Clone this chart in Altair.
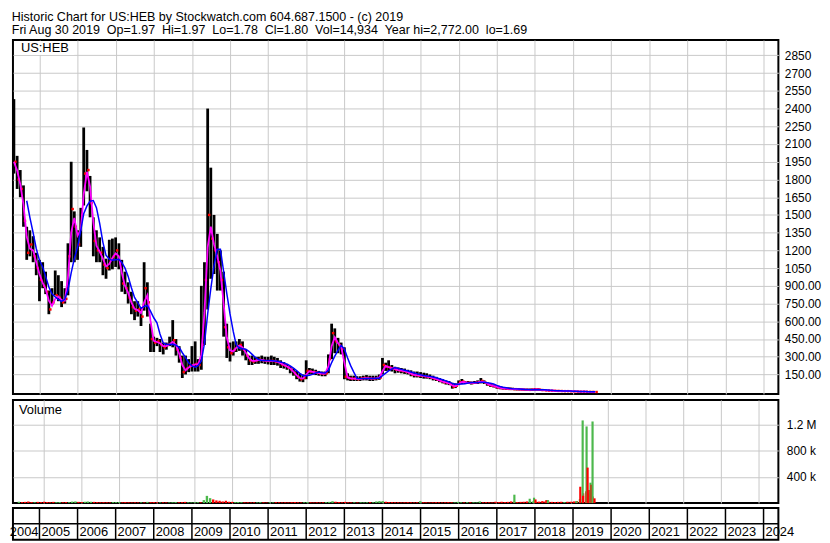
import altair as alt
import pandas as pd

FONT = "Liberation Sans"
GRID = "#c8c8c8"
GREEN = "#4cb84c"
RED = "#ff0000"

TITLE_1 = "Historic Chart for US:HEB by Stockwatch.com 604.687.1500 - (c) 2019"
TITLE_2 = "Fri Aug 30 2019\u00a0 Op=1.97\u00a0 Hi=1.97\u00a0 Lo=1.78\u00a0 Cl=1.80\u00a0 Vol=14,934\u00a0 Year hi=2,772.00\u00a0 lo=1.69"
SYMBOL = "US:HEB"
VOL_LABEL = "Volume"

# monthly bars, May 2004 .. Aug 2019
months = pd.date_range("2004-05-01", "2019-08-01", freq="MS").strftime("%Y-%m-%d").tolist()

high = [
    2480, 2000, 1880, 1750, 1400, 1370, 1320, 1180,                      # 2004
    1120, 1100, 1020, 860, 880, 1030, 990, 940, 880, 1260, 1950, 1530,    # 2005
    1370, 1560, 2240, 2050, 1830, 1480, 1370, 1310, 1230, 1130, 1290, 1300,  # 2006
    1310, 1260, 1120, 1020, 930, 850, 770, 770, 720, 1100, 930, 580,      # 2007
    470, 460, 450, 420, 420, 470, 610, 450, 390, 310, 310, 280,           # 2008
    390, 430, 280, 900, 1100, 2400, 1900, 1500, 1340, 1200, 1020, 580,    # 2009
    420, 430, 430, 450, 430, 360, 310, 310, 300, 300, 310, 300,           # 2010
    300, 310, 300, 290, 270, 255, 240, 220, 200, 180, 160, 150,           # 2011
    270, 205, 200, 190, 180, 175, 175, 320, 580, 540, 460, 420,           # 2012
    380, 160, 140, 140, 135, 135, 140, 145, 140, 140, 140, 150,           # 2013
    290, 250, 270, 230, 215, 210, 205, 200, 190, 185, 175, 175,           # 2014
    170, 165, 160, 150, 140, 130, 120, 110, 100, 95, 80, 75,              # 2015
    100, 112, 95, 95, 90, 95, 100, 120, 100, 85, 75, 65,                  # 2016
    55, 50, 45, 42, 40, 38, 36, 34, 32, 30, 30, 32,                       # 2017
    35, 34, 28, 24, 20, 18, 17, 16, 15, 14, 13, 12,                       # 2018
    11, 10, 9, 8, 7, 6, 5, 4,                                             # 2019
]
low = [
    1850, 1720, 1650, 1400, 1120, 1150, 1100, 990,
    770, 880, 830, 660, 740, 820, 770, 720, 750, 820, 1100, 1100,
    1120, 1230, 1580, 1700, 1480, 1150, 1100, 1100, 990, 960, 1030, 1040,
    1060, 1040, 850, 830, 750, 660, 610, 640, 560, 690, 640, 340,
    340, 390, 340, 320, 360, 390, 380, 310, 250, 120, 150, 170,
    175, 175, 175, 190, 400, 700, 960, 1000, 860, 860, 470, 290,
    260, 310, 340, 350, 310, 270, 230, 230, 240, 240, 245, 240,
    235, 230, 230, 225, 205, 200, 190, 160, 140, 110, 90, 85,
    110, 150, 148, 145, 140, 135, 135, 160, 280, 330, 330, 320,
    110, 100, 95, 95, 95, 95, 100, 100, 95, 95, 100, 105,
    150, 180, 180, 175, 160, 165, 160, 155, 150, 135, 125, 125,
    120, 115, 115, 110, 100, 95, 85, 75, 65, 60, 30, 35,
    60, 70, 70, 70, 65, 70, 70, 75, 70, 55, 45, 40,
    30, 25, 22, 20, 18, 18, 16, 15, 14, 14, 13, 14,
    15, 15, 12, 10, 9, 8, 8, 7, 7, 6, 6, 5,
    5, 4, 4, 3, 3, 2, 2, 1.7,
]
close = [
    1950, 1800, 1720, 1450, 1180, 1250, 1150, 1050,
    950, 900, 850, 700, 760, 820, 800, 760, 790, 1150, 1550, 1400,
    1250, 1500, 1850, 1880, 1600, 1280, 1200, 1180, 1080, 1050, 1120, 1150,
    1200, 1100, 920, 880, 800, 720, 690, 700, 640, 880, 760, 450,
    420, 430, 400, 380, 400, 410, 440, 360, 290, 170, 200, 220,
    230, 240, 230, 400, 950, 1500, 1300, 1200, 1100, 950, 550, 380,
    330, 360, 390, 400, 360, 310, 270, 260, 270, 275, 270, 265,
    265, 265, 260, 255, 235, 225, 210, 190, 160, 130, 110, 120,
    180, 175, 170, 165, 160, 155, 160, 280, 500, 430, 400, 370,
    130, 120, 115, 115, 110, 115, 120, 120, 115, 115, 120, 125,
    230, 215, 210, 200, 190, 185, 180, 175, 165, 150, 145, 140,
    140, 135, 130, 125, 115, 105, 95, 85, 80, 70, 45, 55,
    85, 90, 80, 80, 78, 80, 85, 95, 80, 65, 55, 50,
    40, 35, 32, 30, 28, 26, 25, 24, 22, 21, 20, 22,
    24, 22, 18, 16, 14, 13, 12, 11, 10, 9, 9, 8,
    7, 6, 5, 5, 4, 3, 2.5, 1.8,
]
volume_k = [
    20, 15, 18, 22, 15, 12, 18, 14,
    20, 16, 12, 18, 14, 16, 12, 15, 13, 22, 25, 18,
    15, 20, 24, 20, 18, 15, 12, 14, 12, 10, 15, 14,
    16, 12, 15, 12, 10, 12, 10, 12, 10, 18, 14, 16,
    12, 10, 12, 10, 10, 12, 15, 12, 14, 18, 12, 10,
    12, 14, 12, 45, 110, 75, 55, 40, 35, 25, 35, 20,
    18, 15, 16, 14, 12, 12, 10, 12, 10, 14, 12, 10,
    12, 10, 14, 12, 10, 12, 10, 14, 16, 12, 10, 12,
    15, 12, 10, 12, 10, 12, 14, 18, 28, 20, 15, 12,
    18, 12, 10, 12, 10, 12, 10, 12, 14, 12, 25, 30,
    30, 20, 15, 14, 12, 12, 10, 12, 14, 12, 10, 12,
    28, 14, 12, 10, 12, 14, 12, 10, 12, 14, 12, 10,
    18, 12, 10, 14, 12, 12, 10, 25, 12, 14, 12, 10,
    20, 15, 20, 15, 18, 25, 20, 15, 18, 20, 25, 30,
    25, 20, 22, 30, 25, 20, 18, 15, 18, 20, 15, 20,
    20, 25, 30, 60, 150, 180, 200, 100,
]

# individual heavy-volume sessions
spike_dates = ["2017-07-03", "2017-11-29", "2018-01-10", "2018-01-24", "2018-05-10",
               "2018-05-24", "2019-02-25", "2019-04-04", "2019-04-27", "2019-05-01",
               "2019-06-04", "2019-06-14", "2019-07-02", "2019-07-12", "2019-07-22",
               "2019-08-01", "2019-08-20"]
spike_vol_k = [128, 66, 82, 55, 46, 46, 30, 250, 1266, 112, 1174, 543, 148, 312, 281, 1250, 72]
spike_dir = ["up", "up", "up", "down", "down", "up", "up", "down", "up", "down",
             "up", "down", "down", "up", "down", "up", "down"]

year_labels = [str(y) for y in range(2004, 2025)]
price_ticks = list(range(150, 2851, 150))
vol_ticks = [400000, 800000, 1200000]

price_df = pd.DataFrame({"date": months, "high": high, "low": low, "close": close,
                         "vol": [v * 1000 for v in volume_k]})
spike_df = pd.DataFrame({"date": spike_dates, "vol": [v * 1000 for v in spike_vol_k],
                         "dir": spike_dir})
year_df = pd.DataFrame({"label": year_labels})

W = 772
PH = 357
VH = 104
BH = 32

xscale = alt.Scale(domain=[alt.DateTime(year=2004, month=4, date=22),
                           alt.DateTime(year=2024, month=5, date=22)])
year_vals = [alt.DateTime(year=y) for y in range(2005, 2025)]
x_axis = alt.Axis(values=year_vals, grid=True, labels=False, ticks=False, domain=False,
                  title=None, gridColor=GRID, gridWidth=1)
x_enc = alt.X("date:T", scale=xscale, axis=x_axis)

yscale = alt.Scale(domain=[-15, 2980], nice=False, zero=False)
y_axis = alt.Axis(orient="right", values=price_ticks,
                  labelExpr="datum.value >= 1000 ? format(datum.value, 'd') : format(datum.value, '.2f')",
                  ticks=False, domain=False, grid=True, gridColor=GRID, gridWidth=1,
                  labelFont=FONT, labelFontSize=12, labelColor="black", labelPadding=6, title=None)

base = alt.Chart(price_df)
srt = [alt.SortField("date")]

bars = base.mark_rule(color="black", strokeWidth=2.8).encode(
    x=x_enc, y=alt.Y("low:Q", scale=yscale, axis=y_axis), y2="high:Q")
closes = base.mark_point(shape="square", filled=True, size=6, color=RED, opacity=1,
                         strokeWidth=0, xOffset=1.5).encode(
    x=x_enc, y=alt.Y("close:Q", scale=yscale, axis=y_axis))
ma_short = base.transform_window(ma2="mean(close)", frame=[-1, 0], sort=srt).mark_line(
    color="#ff00ff", strokeWidth=1.8).encode(
    x=x_enc, y=alt.Y("ma2:Q", scale=yscale, axis=y_axis))
ma_long = base.transform_window(ma5="mean(close)", n5="count(close)", frame=[-4, 0], sort=srt
    ).transform_filter("datum.n5 >= 5").mark_line(color="#0000ff", strokeWidth=1.5).encode(
    x=x_enc, y=alt.Y("ma5:Q", scale=yscale, axis=y_axis))
sym_df = pd.DataFrame({"t": [SYMBOL]})
sym_bg = alt.Chart(sym_df).mark_rect(color="white").encode(
    x=alt.value(2), x2=alt.value(62), y=alt.value(1), y2=alt.value(15))
sym_txt = alt.Chart(sym_df).mark_text(align="left", baseline="middle", font=FONT,
                                      fontSize=13, color="black").encode(
    x=alt.value(8), y=alt.value(8), text="t:N")

price = alt.layer(bars, closes, ma_short, ma_long, sym_bg, sym_txt).properties(width=W, height=PH)

# volume panel
vscale = alt.Scale(domain=[0, 1580000], nice=False)
v_axis = alt.Axis(orient="right", values=vol_ticks,
                  labelExpr="datum.value >= 1000000 ? format(datum.value / 1000000, '.1f') + ' M' : format(datum.value / 1000, 'd') + ' k'",
                  ticks=False, domain=False, grid=True, gridColor=GRID, gridWidth=1,
                  labelFont=FONT, labelFontSize=12, labelColor="black", labelPadding=8, title=None)
cscale = alt.Scale(domain=["up", "down"], range=[GREEN, RED])

vbars = base.transform_window(prev="lag(close)", sort=srt).transform_calculate(
    dir="datum.prev == null || datum.close >= datum.prev ? 'up' : 'down'").mark_bar(size=2.4).encode(
    x=x_enc, y=alt.Y("vol:Q", scale=vscale, axis=v_axis),
    color=alt.Color("dir:N", scale=cscale, legend=None))
vspikes = alt.Chart(spike_df).mark_bar(size=2.2).encode(
    x=x_enc, y=alt.Y("vol:Q", scale=vscale, axis=v_axis),
    color=alt.Color("dir:N", scale=cscale, legend=None),
    order=alt.Order("vol:Q", sort="descending"))
vl_df = pd.DataFrame({"t": [VOL_LABEL]})
vtxt = alt.Chart(vl_df).mark_text(align="left", baseline="middle", font=FONT,
                                  fontSize=13, color="black").encode(
    x=alt.value(6), y=alt.value(10), text="t:N")
volume = alt.layer(vbars, vspikes, vtxt).properties(width=W, height=VH)

# year band
bx = alt.X("pos:T", scale=xscale, axis=None)
seps = alt.Chart(year_df).transform_filter("datum.label != '2004'").transform_calculate(
    pos="datetime(toNumber(datum.label), 0, 1)").mark_rule(color="black", strokeWidth=1.5).encode(
    x=bx, y=alt.value(0), y2=alt.value(BH))
hline = alt.Chart(sym_df).mark_rule(color="black", strokeWidth=1.5).encode(
    x=alt.value(0), x2=alt.value(W), y=alt.value(16))
ylabels = alt.Chart(year_df).transform_filter("datum.label != '2004'").transform_calculate(
    pos="datetime(toNumber(datum.label), 0, 1)").mark_text(
    align="left", baseline="middle", font=FONT, fontSize=13, color="black", dx=2).encode(
    x=bx, y=alt.value(24), text="label:N")
# first (partial) year: its label sits just before the next year's separator
first_label = alt.Chart(year_df).transform_filter("datum.label == '2004'").transform_calculate(
    pos="datetime(toNumber(datum.label) + 1, 0, 1)").mark_text(
    align="right", baseline="middle", font=FONT, fontSize=13, color="black", dx=-1).encode(
    x=bx, y=alt.value(24), text="label:N")
band = alt.layer(seps, hline, ylabels, first_label).properties(width=W, height=BH)

chart = alt.vconcat(price, volume, band, spacing=2).properties(
    title=alt.TitleParams(text=[TITLE_1, TITLE_2], anchor="start", font=FONT, fontSize=12.6,
                          fontWeight="normal", color="black", lineHeight=14, offset=2, dx=3),
    padding=0,
).configure_view(stroke="black", strokeWidth=2).configure_concat(spacing=2)

chart.save("out.html", embed_options={"renderer": "svg", "actions": False})
